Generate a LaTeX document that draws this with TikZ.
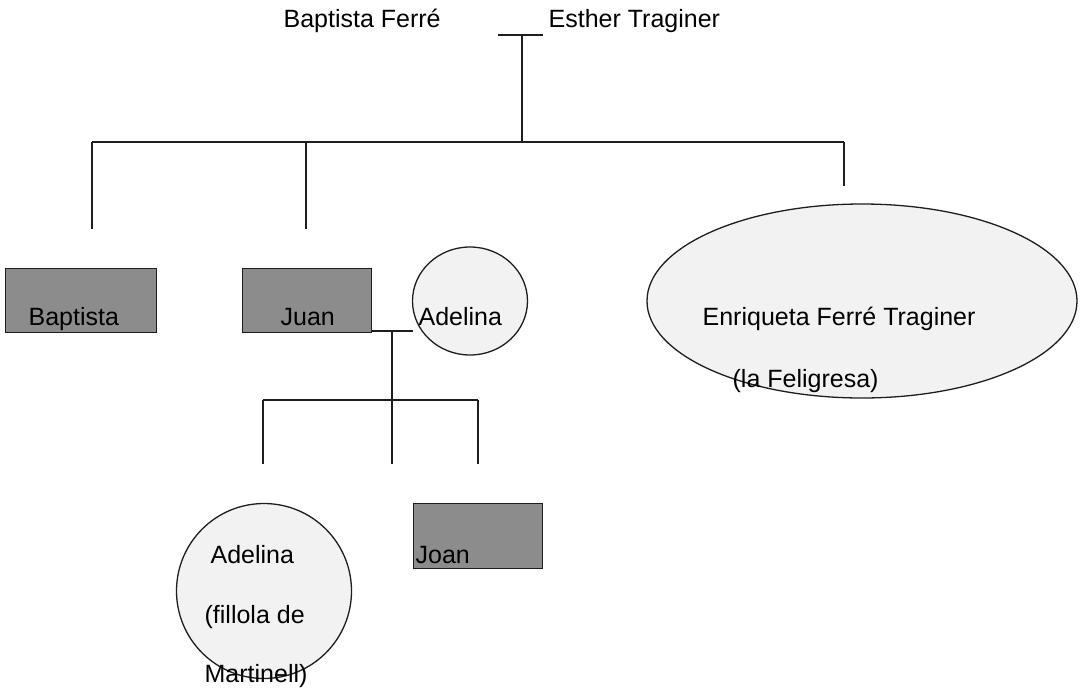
\documentclass[tikz,border=0pt]{standalone}
\usepackage{fontspec}
\setmainfont{Liberation Sans}
\usetikzlibrary{shapes.geometric}
\definecolor{boxgray}{HTML}{8C8C8C}
\definecolor{pale}{HTML}{F2F2F2}
\definecolor{ink}{HTML}{1E1E1E}
\begin{document}
\begin{tikzpicture}[x=1pt,y=-1pt,
  line width=1.3pt,
  txt/.style={inner sep=0pt, anchor=base west, font=\fontsize{25}{30}\selectfont, text=black},
  gbox/.style={draw=ink, fill=boxgray, rectangle, inner sep=0pt, anchor=north west},
  oval/.style={draw=ink, fill=pale, ellipse, inner sep=0pt},
  conn/.style={draw=ink, line width=1.3pt}]
\useasboundingbox (0,0) rectangle (1082,689);

% parents
\node[txt] (father) at (283,27) {Baptista Ferré};
\node[txt] (mother) at (548,27) {Esther Traginer};
\coordinate (tl) at (498,35);
\coordinate (tr) at (543,35);
\coordinate (tm) at (522,35);
\coordinate (hub) at (522,142);
\coordinate (hl) at (92,142);
\coordinate (hj) at (306,142);
\coordinate (hr) at (844,142);
\coordinate (dl) at (92,229);
\coordinate (dj) at (306,229);
\coordinate (dr) at (844,186);
\draw[conn] (tl) -- (tr);
\draw[conn] (tm) -- (hub);
\draw[conn] (hl) -- (hr);
\draw[conn] (hl) -- (dl);
\draw[conn] (hj) -- (dj);
\draw[conn] (hr) -- (dr);

% children generation
\node[gbox, minimum width=151pt, minimum height=64pt] (bap) at (5,268) {};
\node[txt] (baptxt) at (28,325) {Baptista};
\node[gbox, minimum width=129pt, minimum height=64pt] (juan) at (242,268) {};
\node[txt] (juantxt) at (280,325) {Juan};
\node[oval, minimum width=115pt, minimum height=108pt] (adel) at (470,301) {};
\node[txt] (adeltxt) at (418,325) {Adelina};
\node[oval, minimum width=430pt, minimum height=194pt] (enr) at (862,301) {};
\node[txt] (enrtxt) at (702,325) {Enriqueta Ferré Traginer};
\node[txt] (enrtxt2) at (732,387) {(la Feligresa)};

% marriage Juan - Adelina
\coordinate (mj) at (371,331);
\coordinate (ma) at (413,331);
\coordinate (mm) at (392,331);
\coordinate (cm) at (392,400);
\coordinate (cl) at (263,400);
\coordinate (cr) at (478,400);
\coordinate (el) at (263,464);
\coordinate (em) at (392,464);
\coordinate (er) at (478,464);
\draw[conn] (mj) -- (ma);
\draw[conn] (mm) -- (em);
\draw[conn] (cl) -- (cr);
\draw[conn] (cl) -- (el);
\draw[conn] (cr) -- (er);

% grandchildren
\node[oval, circle, minimum size=175pt] (adel2) at (264,591) {};
\node[txt] (a2t1) at (210,563) {Adelina};
\node[txt] (a2t2) at (204,623) {(fillola de};
\node[txt] (a2t3) at (204,682) {Martinell)};
\node[gbox, minimum width=129pt, minimum height=65pt] (joan) at (413,503) {};
\node[txt] (joantxt) at (415,563) {Joan};
\end{tikzpicture}
\end{document}
